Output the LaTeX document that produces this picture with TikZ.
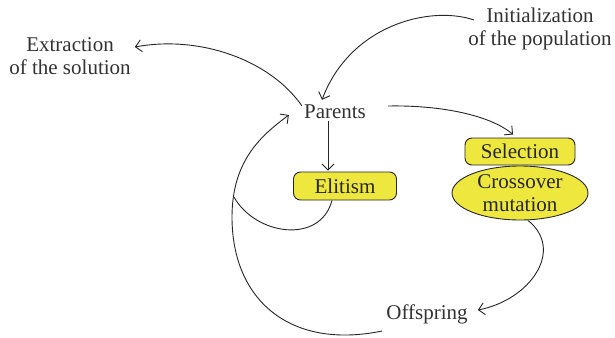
\documentclass[tikz,border=0pt]{standalone}
\usepackage{fontspec}
\setmainfont{Liberation Serif}
\usetikzlibrary{arrows.meta,shapes.geometric,calc}
\definecolor{boxyellow}{RGB}{238,231,62}
\definecolor{txtgray}{RGB}{50,50,50}
\begin{document}
\begin{tikzpicture}[x=1pt,y=-1pt,
  every node/.style={font=\fontsize{21}{23}\selectfont, text=txtgray, inner sep=2pt},
  lbl/.style={align=center},
  ybox/.style={draw=black!85, line width=0.9pt, fill=boxyellow, rounded corners=7pt, text=black!85, inner sep=0pt},
  conn/.style={line width=0.9pt, draw=black!85},
  arr/.style={conn, -{Straight Barb[length=6pt,width=12pt]}}
]
\useasboundingbox (0,0) rectangle (615,337);
\node[lbl] (extr) at (70,56) {Extraction\\of the solution};
\node[lbl] (init) at (540,29) {Initialization\\of the population};
\node (parents) at (335,112) {Parents};
\node[ybox, minimum width=103pt, minimum height=28pt] (elit) at (345,186) {Elitism};
\node[ybox, ellipse, rounded corners=0pt, minimum width=136pt, minimum height=54pt, align=center] (cross) at (520,193) {Crossover\\mutation};
\node[ybox, minimum width=110pt, minimum height=27pt] (sel) at (520,151.5) {Selection};
\node (off) at (427,314) {Offspring};

\draw[arr] ($(parents.north west)+(0,3)$) .. controls (270,60) and (200,35) .. ($(extr.east)+(2,-9)$);
\draw[arr] ($(init.west)+(8,-9)$) .. controls (430,5) and (350,25) .. ($(parents.north)+(-13,-3)$);
\draw[arr] ($(parents.east)+(20,-6)$) .. controls (440,105) and (490,115) .. ($(sel.north)+(-7,-3)$);
\draw[arr] ([xshift=-7pt]parents.south) -- ([xshift=-7pt,yshift=1pt]parents.south |- elit.north);
\draw[conn] ([xshift=-13pt]elit.south) .. controls (320,245) and (255,235) .. (234,197);
\draw[arr] ($(off.west)+(-2,17)$) .. controls (290,350) and (232,300) .. (232,217)
   .. controls (232,160) and (262,135) .. ($(parents.west)+(-13,3)$);
\draw[arr] ($(cross.south)+(8,0)$) .. controls (565,250) and (530,300) .. ($(off.east)+(8,-4)$);
\end{tikzpicture}
\end{document}
